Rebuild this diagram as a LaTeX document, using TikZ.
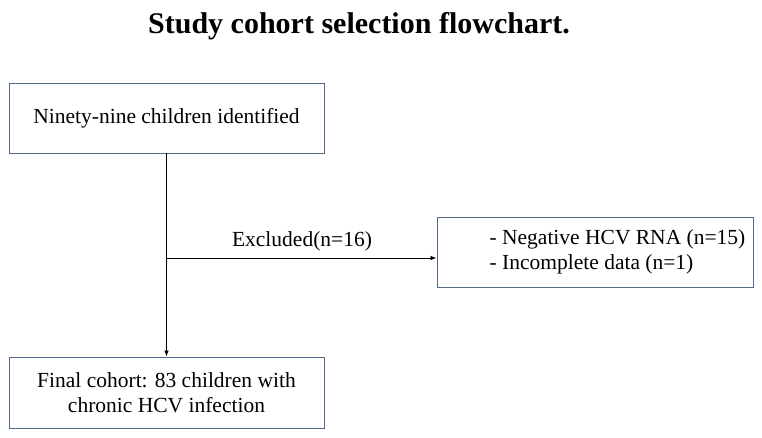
\documentclass[tikz,border=0pt]{standalone}
\usepackage{fontspec}
\setmainfont{Liberation Serif}
\usetikzlibrary{arrows.meta}
\definecolor{boxline}{RGB}{84,108,140}
\begin{document}
\begin{tikzpicture}[x=1pt,y=-1pt,
                        box/.style={shape=rectangle,draw=boxline,line width=0.9pt,font=\fontsize{21.5}{25}\selectfont},
                        lbl/.style={font=\fontsize{21.5}{25}\selectfont},
                        flow/.style={-{Latex[length=6pt,width=4.5pt]},line width=0.8pt}]
                        \useasboundingbox (0,0) rectangle (762,438);
                        \node[font=\fontsize{30}{32}\selectfont\bfseries] (title) at (359,26) {Study cohort selection flowchart.};
                        \node[box,minimum width=315pt,minimum height=70pt] (start) at (166.5,118) {Ninety-nine children identified};
                        \node[box,minimum width=315pt,minimum height=71pt,align=center] (final) at (166.5,392.5) {Final cohort: 83 children with\\chronic HCV infection};
                        \node[box,minimum width=316pt,minimum height=70pt,align=left] (excl) at (595,252) {\hspace*{45pt}- Negative HCV RNA (n=15)\\\hspace*{45pt}- Incomplete data (n=1)};
                        \coordinate (split) at (167,258);
                        \node[lbl] (exlabel) at (302,241) {Excluded(n=16)};
                        \draw[flow] (start) -- (final);
                        \draw[flow] (split) -- (split -| excl.west);
                \end{tikzpicture}
\end{document}
